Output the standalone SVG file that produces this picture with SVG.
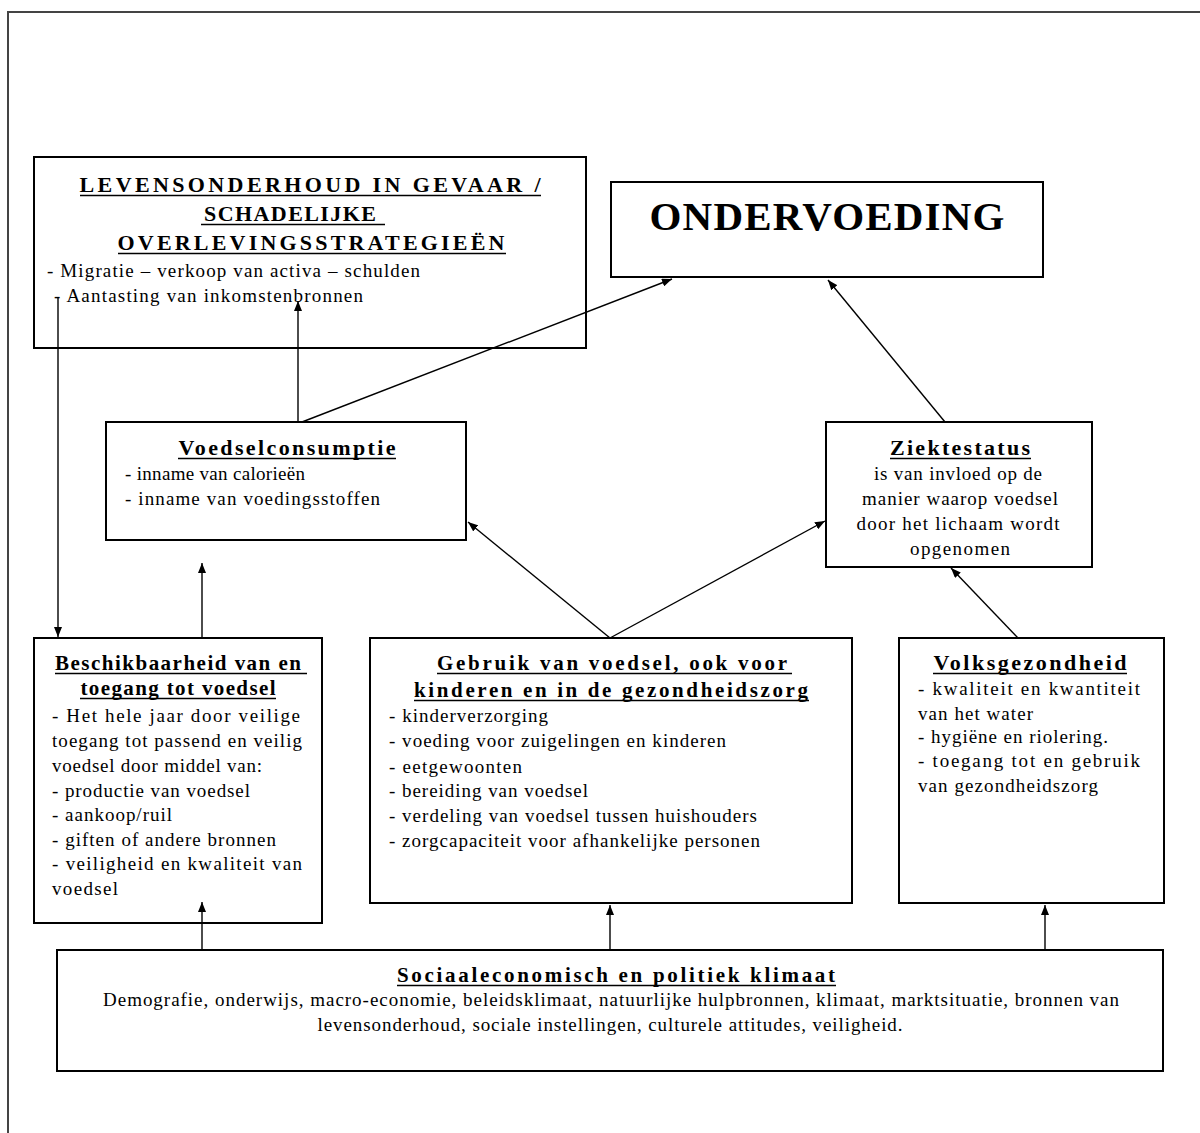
<svg xmlns="http://www.w3.org/2000/svg" width="1200" height="1133" viewBox="0 0 1200 1133">
<style>
.box{fill:#fff;stroke:#000;stroke-width:2}
.frame{fill:none;stroke:#444;stroke-width:2}
.ul{fill:none;stroke:#000;stroke-width:1.5}
text{font-family:"Liberation Serif","Times New Roman",serif;fill:#000}
.h{font-weight:bold}
.t{font-size:19px}
.c{text-anchor:middle}
.con line{stroke:#000;stroke-width:1.4;marker-end:url(#ah)}
</style>
<defs>
<marker id="ah" viewBox="0 0 10 8" refX="10" refY="4" markerWidth="10" markerHeight="8" markerUnits="userSpaceOnUse" orient="auto">
<path d="M0,0 L10,4 L0,8 z" fill="#000"/>
</marker>
</defs>
<rect width="1200" height="1133" fill="#fff"/>
<path class="frame" d="M1200,12 H8 V1133"/>

<g id="levensonderhoud">
<rect class="box" x="34" y="157" width="552" height="191"/>
<text class="h c" x="310" y="192" font-size="22" textLength="461">LEVENSONDERHOUD IN GEVAAR /</text>
<text class="h c" x="290" y="221" font-size="22" textLength="172">SCHADELIJKE</text>
<text class="h c" x="311" y="250" font-size="22" textLength="387">OVERLEVINGSSTRATEGIEËN</text>
<path class="ul" d="M80,195.5 H541 M201,224.5 H385 M118,253.5 H506"/>
<text class="t" x="47" y="277" textLength="373">- Migratie – verkoop van activa – schulden</text>
<text class="t" x="54" y="302" textLength="309">- Aantasting van inkomstenbronnen</text>
</g>

<g id="ondervoeding">
<rect class="box" x="611" y="182" width="432" height="95"/>
<text x="827" y="230" font-size="41" font-weight="bold" text-anchor="middle" textLength="355">ONDERVOEDING</text>
</g>

<g id="voedselconsumptie">
<rect class="box" x="106" y="422" width="360" height="118"/>
<text class="h c" x="287" y="455" font-size="22" textLength="217">Voedselconsumptie</text>
<path class="ul" d="M178,458.5 H396"/>
<text class="t" x="125" y="480" textLength="180">- inname van calorieën</text>
<text class="t" x="125" y="505" textLength="255">- inname van voedingsstoffen</text>
</g>

<g id="ziektestatus">
<rect class="box" x="826" y="422" width="266" height="145"/>
<text class="h c" x="960" y="455" font-size="22" textLength="140">Ziektestatus</text>
<path class="ul" d="M890,458.5 H1031"/>
<text class="t c" x="958" y="480" textLength="168">is van invloed op de</text>
<text class="t c" x="960" y="505" textLength="196">manier waarop voedsel</text>
<text class="t c" x="958" y="530" textLength="203">door het lichaam wordt</text>
<text class="t c" x="960" y="555" textLength="100">opgenomen</text>
</g>

<g id="beschikbaarheid">
<rect class="box" x="34" y="638" width="288" height="285"/>
<text class="h c" x="178" y="670" font-size="21" textLength="246">Beschikbaarheid van en</text>
<text class="h c" x="178" y="695" font-size="21" textLength="195">toegang tot voedsel</text>
<path class="ul" d="M55,673.5 H307 M80,698.5 H276"/>
<text class="t" x="52" y="722" textLength="248">- Het hele jaar door veilige</text>
<text class="t" x="52" y="747" textLength="250">toegang tot passend en veilig</text>
<text class="t" x="52" y="772" textLength="210">voedsel door middel van:</text>
<text class="t" x="52" y="797" textLength="198">- productie van voedsel</text>
<text class="t" x="52" y="821" textLength="120">- aankoop/ruil</text>
<text class="t" x="52" y="846" textLength="224">- giften of andere bronnen</text>
<text class="t" x="52" y="870" textLength="250">- veiligheid en kwaliteit van</text>
<text class="t" x="52" y="895" textLength="66">voedsel</text>
</g>

<g id="gebruik">
<rect class="box" x="370" y="638" width="482" height="265"/>
<text class="h c" x="612" y="670" font-size="21" textLength="350">Gebruik van voedsel, ook voor</text>
<text class="h c" x="611" y="697" font-size="21" textLength="394">kinderen en in de gezondheidszorg</text>
<path class="ul" d="M437,673.5 H792 M414,700.5 H809"/>
<text class="t" x="389" y="722" textLength="159">- kinderverzorging</text>
<text class="t" x="389" y="747" textLength="337">- voeding voor zuigelingen en kinderen</text>
<text class="t" x="389" y="773" textLength="133">- eetgewoonten</text>
<text class="t" x="389" y="797" textLength="199">- bereiding van voedsel</text>
<text class="t" x="389" y="822" textLength="368">- verdeling van voedsel tussen huishouders</text>
<text class="t" x="389" y="847" textLength="371">- zorgcapaciteit voor afhankelijke personen</text>
</g>

<g id="volksgezondheid">
<rect class="box" x="899" y="638" width="265" height="265"/>
<text class="h c" x="1030" y="670" font-size="22" textLength="193">Volksgezondheid</text>
<path class="ul" d="M933,673.5 H1127"/>
<text class="t" x="918" y="695" textLength="222">- kwaliteit en kwantiteit</text>
<text class="t" x="918" y="720" textLength="115">van het water</text>
<text class="t" x="918" y="743" textLength="190">- hygiëne en riolering.</text>
<text class="t" x="918" y="767" textLength="222">- toegang tot en gebruik</text>
<text class="t" x="918" y="792" textLength="180">van gezondheidszorg</text>
</g>

<g id="sociaaleconomisch">
<rect class="box" x="57" y="950" width="1106" height="121"/>
<text class="h c" x="616" y="982" font-size="21" textLength="438">Sociaaleconomisch en politiek klimaat</text>
<path class="ul" d="M397,985.5 H836"/>
<text class="t c" x="611" y="1006" textLength="1016">Demografie, onderwijs, macro-economie, beleidsklimaat, natuurlijke hulpbronnen, klimaat, marktsituatie, bronnen van</text>
<text class="t c" x="610" y="1031" textLength="585">levensonderhoud, sociale instellingen, culturele attitudes, veiligheid.</text>
</g>

<g id="connectors" class="con">
<line x1="58" y1="297" x2="58" y2="637"/>
<line x1="298" y1="422" x2="298" y2="301"/>
<line x1="302" y1="422" x2="672" y2="279"/>
<line x1="945" y1="422" x2="828" y2="280"/>
<line x1="610" y1="638" x2="468" y2="522"/>
<line x1="610" y1="638" x2="825" y2="521"/>
<line x1="1018" y1="638" x2="951" y2="568"/>
<line x1="202" y1="638" x2="202" y2="563"/>
<line x1="202" y1="950" x2="202" y2="902"/>
<line x1="610" y1="950" x2="610" y2="905"/>
<line x1="1045" y1="950" x2="1045" y2="905"/>
</g>
</svg>
